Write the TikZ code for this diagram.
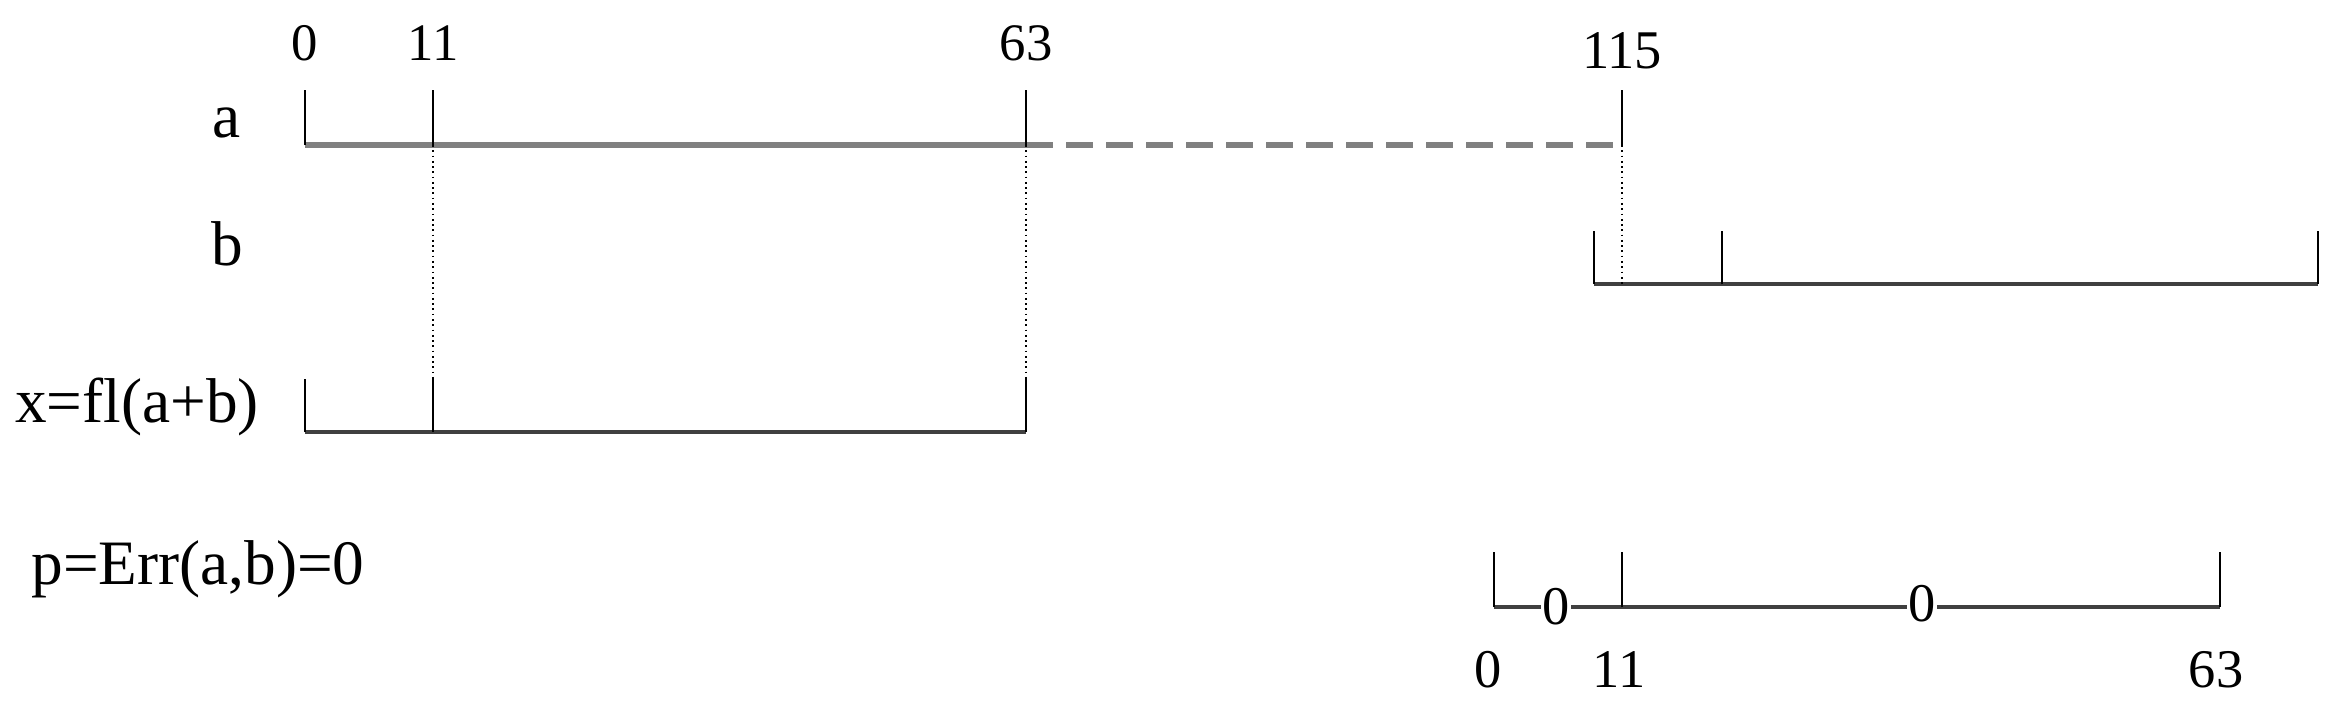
\documentclass[tikz,border=0pt]{standalone}
\usepackage{fontspec}
\setmainfont{Liberation Serif}
\begin{document}
\begin{tikzpicture}[x=0.1mm,y=-0.1mm,
    tick/.style={draw=black,line width=0.6pt},
    bar/.style={draw=black!75,line width=1.2pt},
    abar/.style={draw=black!50,line width=1.6pt},
    guide/.style={draw=black,densely dotted,line width=0.5pt},
    lbl/.style={font=\fontsize{18}{20}\selectfont},
    num/.style={font=\fontsize{15}{17}\selectfont},
    bignum/.style={font=\fontsize{15.5}{17}\selectfont}]
    \useasboundingbox (0,0) rectangle (2347,715);

    % row a
    \coordinate (a0) at (305,145);
    \coordinate (a11) at (433,145);
    \coordinate (a63) at (1026,145);
    \coordinate (a115) at (1622,145);
    \draw[abar] (a0) -- (a63);
    \draw[abar,dash pattern=on 2.7mm off 1.3mm] (a63) -- (a115);

    % row b
    \coordinate (b0) at (1594,284);
    \coordinate (b11) at (1722,284);
    \coordinate (b63) at (2318,284);
    \draw[bar] (b0) -- (b63);

    % row x
    \coordinate (x0) at (305,432);
    \coordinate (x11) at (433,432);
    \coordinate (x63) at (1026,432);
    \draw[bar] (x0) -- (x63);

    % row p
    \coordinate (p0) at (1494,607);
    \coordinate (p11) at (1622,607);
    \coordinate (p63) at (2220,607);
    \draw[bar] (p0) -- (p63);

    % guides
    \draw[guide] (a11) -- (x11);
    \draw[guide] (a63) -- (x63);
    \draw[guide] (a115) -- (a115 |- b0);

    % ticks
    \foreach \t in {a0,a11,a63,a115,p0,p11,p63} \draw[tick] (\t) -- ++(0,-55);
    \foreach \t in {b0,b11,b63,x0,x11,x63} \draw[tick] (\t) -- ++(0,-53);

    % labels
    \node[lbl] (la) at (227,123) {a};
    \node[lbl] (lb) at (227,244) {b};
    \node[lbl] (lx) at (137,407) {x=fl(a+b)};
    \node[lbl] (lp) at (198,569) {p=Err(a,b)=0};

    \node[num] (n0) at (305,43) {0};
    \node[num] (n11) at (433,43) {11};
    \node[num] (n63) at (1026,43) {63};
    \node[bignum] (n115) at (1622,51) {115};

    \node[bignum,fill=white,inner sep=0.5pt] (z1) at (1556,607) {0};
    \node[bignum,fill=white,inner sep=0.5pt] (z2) at (1922,604) {0};
    \node[bignum] (m0) at (1488,670) {0};
    \node[bignum] (m11) at (1619,670) {11};
    \node[bignum] (m63) at (2216,670) {63};
\end{tikzpicture}
\end{document}
